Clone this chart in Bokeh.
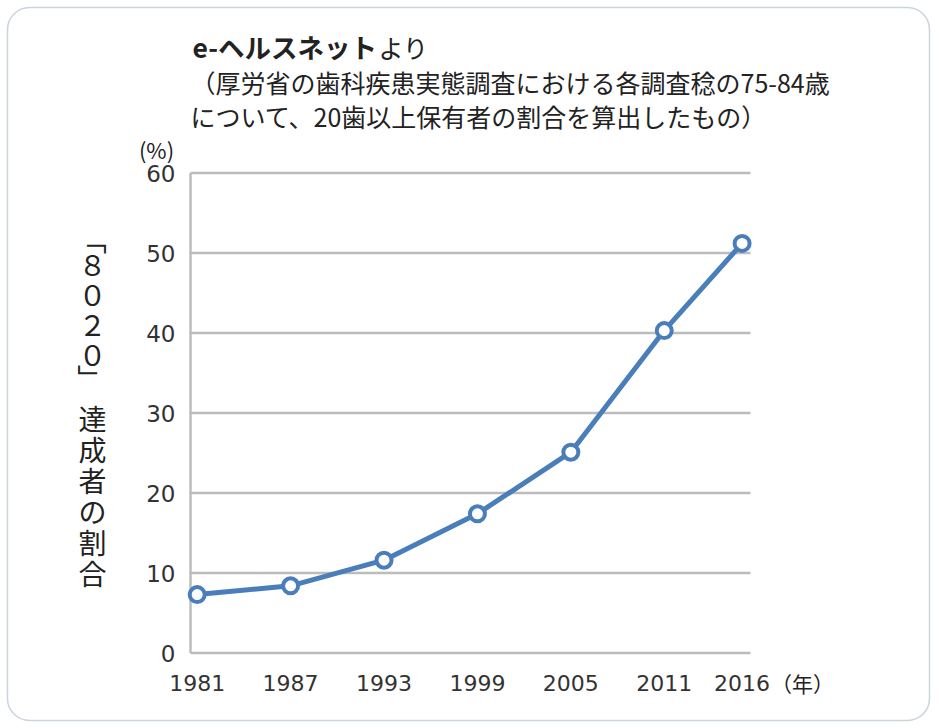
import math
from bokeh.plotting import figure
from bokeh.models import Range1d, Label, BoxAnnotation
from bokeh.core.properties import value
from bokeh.embed import file_html
from bokeh.resources import INLINE

# ---- data ----
years = [1981, 1987, 1993, 1999, 2005, 2011, 2016]
rate = [7.3, 8.4, 11.6, 17.4, 25.1, 40.3, 51.2]
y_ticks = [0, 10, 20, 30, 40, 50, 60]
x_tick_labels = ["1981", "1987", "1993", "1999", "2005", "2011", "2016"]
y_tick_labels = ["0", "10", "20", "30", "40", "50", "60"]
title_bold = "e-ヘルスネット"
title_rest = "より"
note_line1 = "（厚労省の歯科疾患実態調査における各調査稔の75-84歳"
note_line2 = "について、20歯以上保有者の割合を算出したもの）"
y_unit = "(%)"
x_unit = "（年）"
y_label_chars = ["「", "８", "０", "２", "０", "」", "達", "成", "者", "の", "割", "合"]

W, H = 939, 728
# plot area (data) limits and the pixel scale used to map the whole canvas
X_LO, X_HI = 1980.57, 2016.54
PX_X = 560 / (X_HI - X_LO)          # px per year
PX_Y = 8.0                           # px per percent
LEFT_PX, RIGHT_PX, TOP_PX, BOTTOM_PX = 190, 189, 172.5, 75.5

BLUE = "#4a7ebb"
GRID = "#bcbcbc"
TXT = "#222222"
TICK = "#333333"
JP = "Noto Sans CJK JP"

p = figure(width=W, height=H, output_backend="svg", toolbar_location=None,
           min_border=0,
           x_range=Range1d(X_LO - LEFT_PX / PX_X, X_HI + RIGHT_PX / PX_X),
           y_range=Range1d(min(y_ticks) - BOTTOM_PX / PX_Y, max(y_ticks) + TOP_PX / PX_Y))
p.outline_line_color = None
p.background_fill_color = "white"
p.border_fill_color = "white"
p.axis.visible = False
p.grid.visible = False

# horizontal grid lines and left axis line
n = len(y_ticks)
p.segment(x0=[X_LO] * n, y0=y_ticks, x1=[X_HI] * n, y1=y_ticks,
          line_color=GRID, line_width=2.5)
p.segment(x0=[X_LO], y0=[min(y_ticks)], x1=[X_LO], y1=[max(y_ticks)],
          line_color=GRID, line_width=2.5)

# tick labels
p.text(x=[X_LO] * n, y=y_ticks, text=y_tick_labels, x_offset=-15,
       text_align="right", text_baseline="middle",
       text_font=value("DejaVu Sans"), text_font_size=value("23px"),
       text_color=TICK)
p.text(x=years, y=[min(y_ticks)] * len(years), text=x_tick_labels, y_offset=30,
       text_align="center", text_baseline="middle",
       text_font=value("DejaVu Sans"), text_font_size=value("22px"),
       text_color=TICK)

# data line
p.line(years, rate, line_color=BLUE, line_width=5)
p.scatter(years, rate, marker="circle", size=15, fill_color="white",
          line_color=BLUE, line_width=4)


def add_label(text, cx, cy, size, align="left", bold=False, angle=0.0):
    p.add_layout(Label(x=cx, y=cy, x_units="canvas", y_units="canvas",
                       text=text, text_font=JP, text_font_size=size,
                       text_font_style="bold" if bold else "normal",
                       text_align=align, text_baseline="middle",
                       text_color=TXT, angle=angle))


add_label(title_bold, 192, 46, "26.5px", bold=True)
add_label(title_rest, 378, 46, "25px")
add_label(note_line1, 190, 81, "25px")
add_label(note_line2, 190, 115, "25px")
add_label(y_unit, 156, 148, "22px", align="center")
add_label(x_unit, 802, 682, "21px", align="center")

y_pos = [240, 263, 293, 323, 353, 378, 417, 448, 479, 510, 541, 572]
for ch, cy in zip(y_label_chars, y_pos):
    rot = -math.pi / 2 if ch in ("「", "」") else 0.0
    add_label(ch, 92, cy, "28px", align="center", angle=rot)

# rounded frame around the whole chart
p.add_layout(BoxAnnotation(left=7, right=929, top=7, bottom=720,
                           left_units="canvas", right_units="canvas",
                           top_units="canvas", bottom_units="canvas",
                           fill_color=None, line_color="#4f6f8d", line_width=1.5,
                           border_radius=22))

open("out.html", "w").write(file_html(p, INLINE))
